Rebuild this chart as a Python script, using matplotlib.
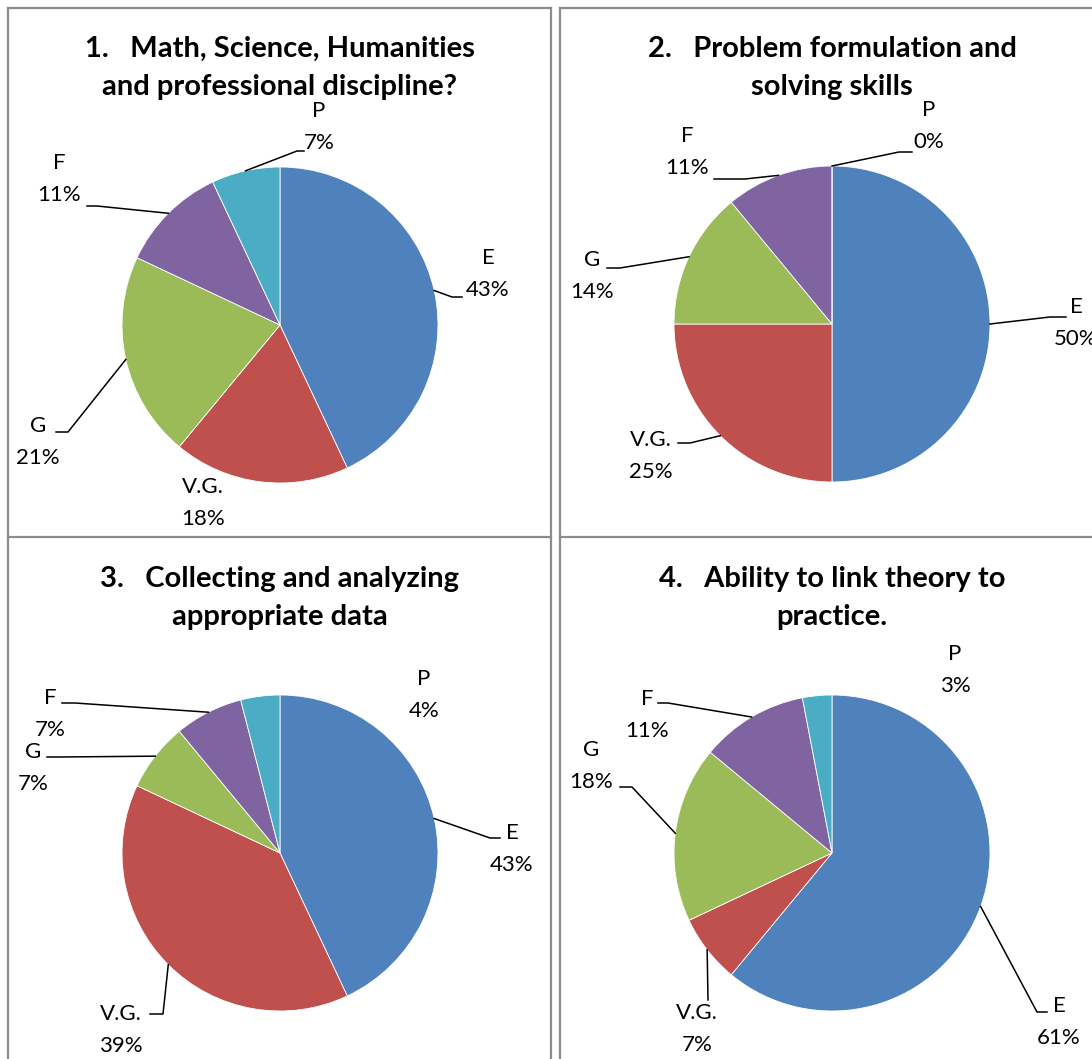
import numpy as np
import matplotlib
matplotlib.use("Agg")
import matplotlib.pyplot as plt
from matplotlib.lines import Line2D

# ---------------- data ----------------
categories = ["E", "V.G.", "G", "F", "P"]
titles = [
    "1.   Math, Science, Humanities\nand professional discipline?",
    "2.   Problem formulation and\nsolving skills",
    "3.   Collecting and analyzing\nappropriate data",
    "4.   Ability to link theory to\npractice.",
]
values_1 = [43, 18, 21, 11, 7]
values_2 = [50, 25, 14, 11, 0]
values_3 = [43, 39, 7, 7, 4]
values_4 = [61, 7, 18, 11, 3]
all_values = [values_1, values_2, values_3, values_4]

colors = ["#4F81BD", "#C0504D", "#9BBB59", "#8064A2", "#4BACC6"]

# ---------------- layout (pixels) ----------------
W, H = 1092, 1059
R = 158
centers = [(280, 325), (832, 324), (280, 853), (832, 853)]
title_y = [68, 68, 598, 598]

# label layout: per panel, per category: (text center, elbow, end) in pixels
label_layout = [
    [((488, 274), (452, 297), (462, 297)),
     ((203, 503), None, None),
     ((38, 442), (68, 432), (56, 432)),
     ((59, 179), (97, 206), (87, 206)),
     ((319, 127), (297, 151), (304, 151))],
    [((1076, 323), (1050, 317), (1066, 317)),
     ((651, 456), (690, 443), (678, 443)),
     ((592, 276), (620, 268), (607, 268)),
     ((687, 152), (745, 179), (714, 179)),
     ((929, 126), (899, 152), (912, 152))],
    [((512, 849), (490, 838), (500, 838)),
     ((121, 1030), (163, 1014), (150, 1014)),
     ((33, 768), (60, 757), (47, 757)),
     ((50, 714), (75, 703), (62, 703)),
     ((424, 695), None, None)],
    [((1059, 1022), (1037, 1012), (1047, 1012)),
     ((697, 1029), (708, 1000), (708, 1000)),
     ((591, 766), (632, 787), (620, 787)),
     ((647, 715), (668, 703), (658, 703)),
     ((955, 670), None, None)],
]

fig = plt.figure(figsize=(W / 100, H / 100), dpi=100)
fig.patch.set_facecolor("white")


def fig_line(xs, ys):
    fig.add_artist(Line2D([x / W for x in xs], [1 - y / H for y in ys],
                          color="#8C8C8C", lw=1.6, transform=fig.transFigure))


fig_line([8, 8], [8, H])
fig_line([551, 551], [8, H])
fig_line([560, 560], [8, H])
fig_line([8, 551], [8, 8])
fig_line([560, W], [8, 8])
fig_line([8, 551], [537, 537])
fig_line([560, W], [537, 537])

title_font = ["Lato", "DejaVu Sans"]
label_font = ["Lato", "DejaVu Sans"]

for i, (vals, (cx, cy)) in enumerate(zip(all_values, centers)):
    ax = fig.add_axes([(cx - R) / W, (H - cy - R) / H, 2 * R / W, 2 * R / H])
    ax.axis("off")
    ax.pie(vals, colors=colors, startangle=90, counterclock=False,
           radius=1, center=(0, 0),
           wedgeprops=dict(edgecolor="white", linewidth=0.6))
    ax.set_xlim(-1, 1)
    ax.set_ylim(-1, 1)

    fig.text(cx / W, 1 - title_y[i] / H, titles[i], ha="center", va="center",
             fontsize=21, fontweight="bold", family=title_font,
             linespacing=1.58)

    total = sum(vals)
    cum = 0
    for j, (cat, v) in enumerate(zip(categories, vals)):
        mid = (cum + v / 2) / total
        cum += v
        ang = np.deg2rad(90 - mid * 360)
        px, py = np.cos(ang), np.sin(ang)
        (tx, ty), elbow, end = label_layout[i][j]
        to_d = lambda p: ((p[0] - cx) / R, (cy - p[1]) / R)
        dtx, dty = to_d((tx, ty))
        ax.text(dtx, dty, f"{cat}\n{round(100 * v / total)}%", ha="center",
                va="center", fontsize=16, family=label_font,
                linespacing=1.72, clip_on=False)
        if elbow is not None:
            e = to_d(elbow)
            n = to_d(end)
            ax.add_line(Line2D([px, e[0], n[0]], [py, e[1], n[1]],
                               color="black", lw=1.1, clip_on=False))

fig.savefig("out.png", dpi=100, facecolor="white")
